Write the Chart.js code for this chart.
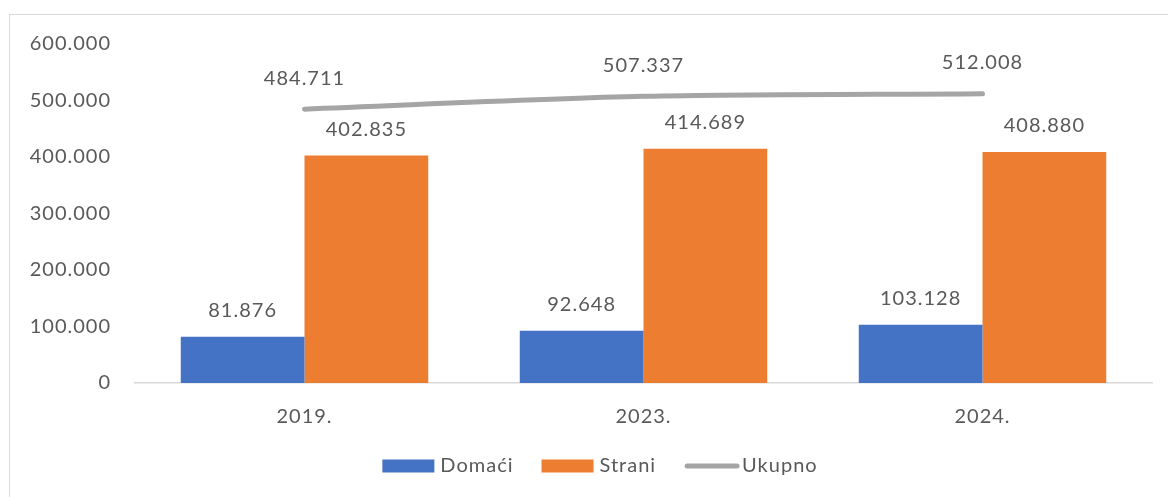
<!DOCTYPE html>
<html>
<head>
<meta charset="utf-8">
<script src="https://cdn.jsdelivr.net/npm/chart.js@4/dist/chart.umd.min.js"></script>
<style>
html,body{margin:0;padding:0;background:#fff;}
#wrap{position:relative;width:1168px;height:497px;}
#frame{position:absolute;left:9px;top:14px;width:1170px;height:500px;border:1.5px solid #d9d9d9;box-sizing:border-box;}
canvas{position:absolute;left:0;top:0;}
</style>
</head>
<body>
<div id="wrap"><div id="frame"></div><canvas id="c" width="1168" height="497"></canvas></div>
<script>
const categories = ['2019.', '2023.', '2024.'];
const domaci = [81876, 92648, 103128];
const strani = [402835, 414689, 408880];
const ukupno = [484711, 507337, 512008];
const seriesNames = ['Domaći', 'Strani', 'Ukupno'];

const FONT = 'Lato, "Open Sans", sans-serif';
const FS = 20;
const TXT = '#595959';
const COLORS = ['#4472C4', '#ED7D31', '#A5A5A5'];

function fmt(v){ return String(Math.round(v)).replace(/\B(?=(\d{3})+(?!\d))/g, '.'); }

const spacingPlugin = {
  id: 'spacing',
  beforeInit(chart){ try { chart.ctx.letterSpacing = '1px'; } catch(e){} },
  beforeDraw(chart){ try { chart.ctx.letterSpacing = '1px'; } catch(e){} }
};

const labelPlugin = {
  id: 'valLabels',
  afterDatasetsDraw(chart){
    const ctx = chart.ctx;
    ctx.save();
    ctx.font = FS + 'px ' + FONT;
    ctx.fillStyle = TXT;
    ctx.textAlign = 'center';
    ctx.textBaseline = 'middle';
    chart.data.datasets.forEach((ds, i) => {
      const meta = chart.getDatasetMeta(i);
      const off = ds.type === 'line' ? 31 : 26;
      meta.data.forEach((el, j) => {
        ctx.fillText(fmt(ds.data[j]), el.x, el.y - off);
      });
    });
    ctx.restore();
  }
};

const legendPlugin = {
  id: 'customLegend',
  afterDraw(chart){
    const ctx = chart.ctx;
    ctx.save();
    ctx.font = FS + 'px ' + FONT;
    ctx.textBaseline = 'middle';
    const y = 466;
    const boxW = 52, gap = 6, itemGap = 28;
    const widths = seriesNames.map(n => boxW + gap + ctx.measureText(n).width);
    const total = widths.reduce((a,b)=>a+b,0) + itemGap*(seriesNames.length-1);
    let x = 600 - total/2;
    seriesNames.forEach((n, i) => {
      if (i < 2) {
        ctx.fillStyle = COLORS[i];
        ctx.fillRect(x, y - 6.5, boxW, 13);
      } else {
        ctx.strokeStyle = COLORS[i];
        ctx.lineWidth = 5;
        ctx.lineCap = 'round';
        ctx.beginPath();
        ctx.moveTo(x + 3, y);
        ctx.lineTo(x + boxW + 1, y);
        ctx.stroke();
      }
      ctx.fillStyle = TXT;
      ctx.textAlign = 'left';
      ctx.fillText(n, x + boxW + gap, y);
      x += widths[i] + itemGap;
    });
    ctx.restore();
  }
};

new Chart(document.getElementById('c'), {
  data: {
    labels: categories,
    datasets: [
      { type: 'line', label: seriesNames[2], data: ukupno, borderColor: COLORS[2], backgroundColor: COLORS[2],
        borderWidth: 5, borderCapStyle: 'round', pointRadius: 0, pointHoverRadius: 0, tension: 0.3, order: 0 },
      { type: 'bar', label: seriesNames[0], data: domaci, backgroundColor: COLORS[0], order: 1,
        categoryPercentage: 0.73, barPercentage: 1 },
      { type: 'bar', label: seriesNames[1], data: strani, backgroundColor: COLORS[1], order: 1,
        categoryPercentage: 0.73, barPercentage: 1 }
    ]
  },
  options: {
    responsive: false,
    animation: false,
    devicePixelRatio: 1,
    layout: { padding: { left: 0, right: 16, top: 44, bottom: 64 } },
    plugins: { legend: { display: false }, tooltip: { enabled: false } },
    scales: {
      x: {
        grid: { display: false, drawTicks: false },
        border: { display: true, color: '#d9d9d9', width: 1.5 },
        ticks: { color: TXT, font: { family: FONT, size: FS }, padding: 22 },
        afterFit(s){ s.height = 50; }
      },
      y: {
        min: 0, max: 600000,
        grid: { display: false, drawTicks: false },
        border: { display: false },
        ticks: { stepSize: 100000, color: TXT, font: { family: FONT, size: FS }, padding: 24,
          callback: v => fmt(v) },
        afterFit(s){ s.width = 135; }
      }
    }
  },
  plugins: [spacingPlugin, labelPlugin, legendPlugin]
});
</script>
</body>
</html>
